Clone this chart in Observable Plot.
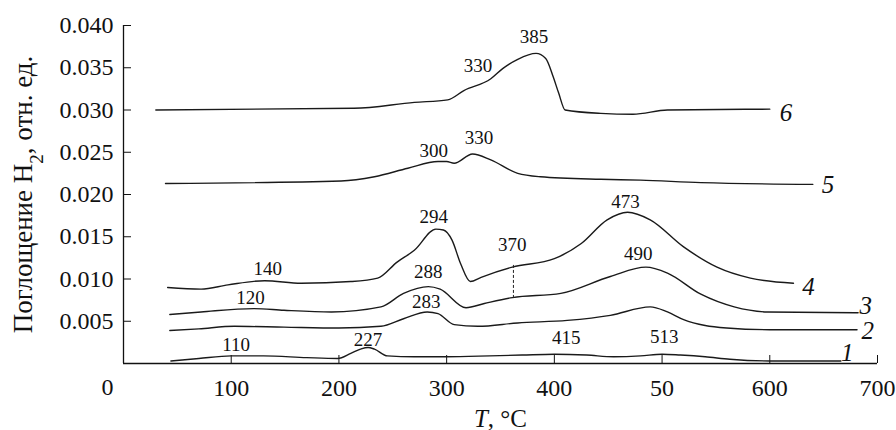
<!DOCTYPE html>
<html>
<head>
<meta charset="utf-8">
<script src="https://cdn.jsdelivr.net/npm/d3@7"></script>
<script src="https://cdn.jsdelivr.net/npm/@observablehq/plot@0.6"></script>
<style>
  html, body { margin: 0; padding: 0; background: #fff; }
  #chart { width: 896px; height: 430px; }
</style>
</head>
<body>
<div id="chart"></div>
<script>
// ---- Data (temperature °C, H2 uptake, rel. units) ----
const t1 = [44, 70, 100, 130, 170, 199, 211, 220, 227, 233, 245, 270, 300, 340, 370, 400, 430, 455, 480, 500, 517, 540, 563, 600, 666];
const v1 = [0.0003, 0.0006, 0.0009, 0.0009, 0.0007, 0.0006, 0.0012, 0.0017, 0.0019, 0.0017, 0.0009, 0.0008, 0.0008, 0.0009, 0.0010, 0.0011, 0.0010, 0.0008, 0.0009, 0.0011, 0.0010, 0.0008, 0.0005, 0.0003, 0.0003];

const t2 = [43, 70, 103, 149, 200, 239, 260, 282, 292, 307, 329, 366, 412, 452, 489, 505, 520, 540, 560, 600, 681];
const v2 = [0.0039, 0.0041, 0.0044, 0.0043, 0.0042, 0.0044, 0.0053, 0.0061, 0.0059, 0.0046, 0.0044, 0.0048, 0.0051, 0.0057, 0.0067, 0.0061, 0.0052, 0.0045, 0.0042, 0.0040, 0.0040];

const t3 = [43, 72, 121, 149, 193, 239, 260, 283, 294, 318, 335, 361, 406, 452, 485, 505, 536, 567, 598, 682];
const v3 = [0.0058, 0.0061, 0.0065, 0.0063, 0.0061, 0.0067, 0.0083, 0.0091, 0.0088, 0.0066, 0.0071, 0.0078, 0.0083, 0.0103, 0.0114, 0.0107, 0.0082, 0.0067, 0.0061, 0.0060];

const t4 = [41, 72, 97, 131, 165, 211, 236, 254, 270, 290, 297, 305, 313, 322, 332, 361, 400, 425, 449, 468, 489, 520, 551, 582, 622];
const v4 = [0.0090, 0.0088, 0.0093, 0.0098, 0.0095, 0.0097, 0.0101, 0.0120, 0.0134, 0.0159, 0.0158, 0.0146, 0.0118, 0.0097, 0.0102, 0.0114, 0.0124, 0.0142, 0.0170, 0.0179, 0.0170, 0.0138, 0.0114, 0.0101, 0.0095];

const t5 = [39, 202, 233, 264, 292, 300, 307, 324, 341, 366, 387, 443, 480, 536, 640];
const v5 = [0.0213, 0.0216, 0.0221, 0.0231, 0.0239, 0.0239, 0.0237, 0.0248, 0.0241, 0.0225, 0.0221, 0.0218, 0.0217, 0.0214, 0.0212];

const t6 = [30, 214, 270, 301, 316, 341, 352, 366, 383, 392, 399, 404, 410, 443, 473, 505, 600];
const v6 = [0.0300, 0.0302, 0.0309, 0.0312, 0.0323, 0.0337, 0.0349, 0.0360, 0.0367, 0.0361, 0.0339, 0.0320, 0.0300, 0.0296, 0.0295, 0.0300, 0.0301];

// Peak annotations (label, T, value at label centre)
const annText = ["385", "330", "300", "330", "473", "294", "370", "140", "288", "120", "283", "490", "110", "227", "415", "513"];
const annT    = [381, 329, 288, 330, 466, 288, 361, 134, 283, 118, 281, 478, 104.5, 227, 411, 502];
const annV    = [0.0386, 0.0352, 0.0252, 0.0267, 0.0191, 0.01735, 0.0140, 0.01117, 0.01085, 0.00782, 0.0073, 0.01294, 0.00219, 0.00278, 0.00301, 0.00313];

// Curve numbers
const numText = ["1", "2", "3", "4", "5", "6"];
const numT    = [672, 691, 689, 636, 654, 615];
const numV    = [0.00124, 0.00384, 0.00677, 0.00904, 0.0211, 0.0296];

// Dashed marker at 370 between curves 3 and 4
const dashT = [362];
const dashV1 = [0.0077];
const dashV2 = [0.01164];

// Axis ticks
const xTicks = [100, 200, 300, 400, 500, 600, 700];
const xTickLabels = ["100", "200", "300", "400", "50", "600", "700"];
const yTicks = [0.005, 0.010, 0.015, 0.020, 0.025, 0.030, 0.035, 0.040];

const series = [t1, t2, t3, t4, t5, t6];
const values = [v1, v2, v3, v4, v5, v6];
const table = series.flatMap((ts, k) => ts.map((t, i) => ({curve: numText[k], T: t, v: values[k][i]})));
const ann = annText.map((s, i) => ({s, T: annT[i], v: annV[i]}));
const nums = numText.map((s, i) => ({s, T: numT[i], v: numV[i]}));
const dash = dashT.map((t, i) => ({T: t, a: dashV1[i], b: dashV2[i]}));

const FONT = "'Liberation Serif', 'Times New Roman', serif";

const chart = Plot.plot({
  width: 896,
  height: 430,
  marginLeft: 123,
  marginRight: 19,
  marginTop: 25,
  marginBottom: 67,
  style: {fontFamily: FONT, color: "#111", background: "#fff"},
  x: {domain: [0, 700]},
  y: {domain: [0, 0.040]},
  marks: [
    Plot.axisX({ticks: xTicks, tickSize: -8, tickPadding: 23, fontSize: 24, fontFamily: FONT,
      tickFormat: d => xTickLabels[xTicks.indexOf(d)], label: null}),
    Plot.axisY({ticks: yTicks, tickSize: -8, tickPadding: 18, fontSize: 24, fontFamily: FONT,
      tickFormat: d3.format(".3f"), label: null}),
    Plot.text(["0"], {x: 0, y: 0, text: d => d, dx: -16, dy: 24, fontSize: 24, fontFamily: FONT}),
    Plot.ruleX([0], {stroke: "#111", strokeWidth: 1.3}),
    Plot.ruleY([0], {stroke: "#111", strokeWidth: 1.3}),
    Plot.line(table, {x: "T", y: "v", z: "curve", curve: "monotone-x", stroke: "#1a1a1a", strokeWidth: 1.4}),
    Plot.ruleX(dash, {x: "T", y1: "a", y2: "b", stroke: "#222", strokeWidth: 1, strokeDasharray: "3,2"}),
    Plot.text(ann, {x: "T", y: "v", text: "s", fontSize: 19, fontFamily: FONT, fill: "#111"}),
    Plot.text(nums, {x: "T", y: "v", text: "s", fontSize: 25, fontFamily: FONT, fontStyle: "italic", fill: "#111"}),
    Plot.text(["T, °C"], {frameAnchor: "bottom", text: d => d, dy: 63, fontSize: 25, fontFamily: FONT, fill: "#111"}),
    Plot.text(["Поглощение H2, отн. ед."], {frameAnchor: "left", textAnchor: "middle", lineAnchor: "middle",
      text: d => d, rotate: -90, dx: -100, fontSize: 27, fontFamily: FONT, fill: "#111"})
  ]
});

// Rich text: italic T and subscript 2
chart.querySelectorAll("text").forEach(t => {
  if (t.textContent === "T, °C") {
    t.innerHTML = '<tspan font-style="italic">T</tspan>, °C';
  } else if (t.textContent === "Поглощение H2, отн. ед.") {
    t.innerHTML = 'Поглощение H<tspan baseline-shift="sub" font-size="70%">2</tspan>, отн. ед.';
  }
});

document.getElementById("chart").appendChild(chart);
</script>
</body>
</html>
